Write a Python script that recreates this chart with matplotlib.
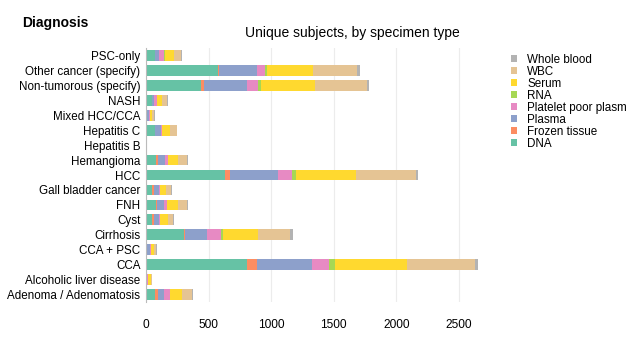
import matplotlib.pyplot as plt
import numpy as np

# === Data ===
diagnoses = ['PSC-only', 'Other cancer (specify)', 'Non-tumorous (specify)', 'NASH',
             'Mixed HCC/CCA', 'Hepatitis C', 'Hepatitis B', 'Hemangioma', 'HCC',
             'Gall bladder cancer', 'FNH', 'Cyst', 'Cirrhosis', 'CCA + PSC', 'CCA',
             'Alcoholic liver disease', 'Adenoma / Adenomatosis']

dna = [75, 573, 443, 45, 8, 69, 0, 83, 629, 48, 83, 48, 307, 10, 805, 0, 75]
frozen_tissue = [0, 13, 19, 0, 0, 0, 0, 11, 43, 13, 5, 13, 8, 0, 80, 0, 19]
plasma = [32, 301, 341, 15, 15, 53, 0, 61, 379, 40, 59, 40, 173, 18, 445, 10, 53]
platelet_poor = [35, 64, 91, 30, 5, 5, 0, 19, 112, 13, 21, 13, 112, 8, 129, 3, 48]
rna = [8, 13, 27, 0, 0, 0, 0, 0, 32, 0, 0, 0, 16, 0, 48, 0, 0]
serum = [72, 371, 429, 40, 22, 61, 10, 83, 485, 48, 85, 59, 277, 25, 579, 28, 93]
wbc = [61, 352, 419, 40, 15, 59, 0, 72, 475, 40, 75, 43, 256, 22, 541, 8, 80]
whole_blood = [5, 19, 11, 5, 3, 3, 0, 8, 16, 8, 8, 8, 27, 5, 24, 2, 8]

series = [('DNA', dna), ('Frozen tissue', frozen_tissue), ('Plasma', plasma),
          ('Platelet poor plasm', platelet_poor), ('RNA', rna), ('Serum', serum),
          ('WBC', wbc), ('Whole blood', whole_blood)]
colors = ['#66c2a5', '#fc8d62', '#8da0cb', '#e78ac3', '#a6d854', '#ffd92f', '#e5c494', '#b3b3b3']

plt.rcParams['font.family'] = ['Liberation Sans', 'DejaVu Sans']

fig = plt.figure(figsize=(6.32, 3.38), dpi=100)
ax = fig.add_axes([146 / 632, 1 - 302 / 338, (484 - 146) / 632, (302 - 48) / 338])

y = np.arange(len(diagnoses))
left = np.zeros(len(diagnoses))
handles = []
for (name, vals), c in zip(series, colors):
    h = ax.barh(y, vals, left=left, height=0.72, color=c, label=name, linewidth=0)
    handles.append(h)
    left += np.array(vals)

ax.set_yticks(y)
ax.set_yticklabels(diagnoses, fontsize=8.4)
ax.set_ylim(len(diagnoses) - 0.5, -0.5)
ax.set_xlim(0, 2700)
ax.set_xticks([0, 500, 1000, 1500, 2000, 2500])
ax.tick_params(axis='x', length=0, pad=12, labelsize=8.6)
ax.tick_params(axis='y', length=0, pad=4)
ax.grid(axis='x', color='#ececec', linewidth=0.8)
ax.set_axisbelow(True)
for s in ['top', 'right', 'bottom']:
    ax.spines[s].set_visible(False)
ax.spines['left'].set_color('#bbbbbb')
ax.spines['left'].set_linewidth(0.8)

fig.text(22 / 632, 1 - 23 / 338, 'Diagnosis', fontsize=10, fontweight='bold', va='center')
fig.text(352 / 632, 1 - 33 / 338, 'Unique subjects, by specimen type', fontsize=10,
         ha='center', va='center')

fig.legend(handles[::-1], [n for n, _ in series][::-1], loc='upper left',
           bbox_to_anchor=(511 / 632, 1 - 54 / 338), frameon=False, fontsize=8.4,
           handlelength=0.55, handleheight=0.55, handletextpad=0.85, labelspacing=0.0,
           borderpad=0, borderaxespad=0)

fig.savefig('out.png', dpi=100)
